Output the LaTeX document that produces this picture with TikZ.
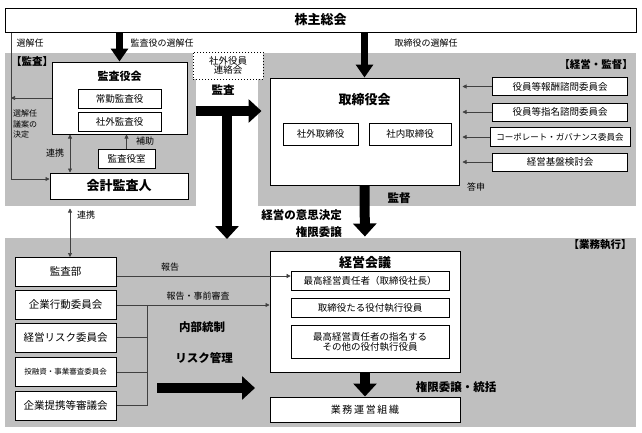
\documentclass[tikz,border=0pt]{standalone}
\usepackage{fontspec}
\setmainfont{Noto Sans CJK JP}
\usetikzlibrary{arrows.meta}

\begin{document}
\begin{tikzpicture}[x=1pt,y=-1pt,
    box/.style={draw,fill=white,line width=1pt,inner sep=0pt,align=center},
    sub/.style={draw,fill=white,line width=0.7pt,inner sep=0pt,align=center,font=\fontsize{9.5}{10}\selectfont},
    leftbox/.style={box,minimum width=101pt,minimum height=29pt,font=\fontsize{10.5}{11}\selectfont},
    area/.style={fill=black!25},
    ttl/.style={font=\bfseries\fontsize{13}{14}\selectfont},
    lbl/.style={inner sep=0pt,font=\fontsize{9}{10}\selectfont},
    blbl/.style={inner sep=0pt,font=\bfseries\fontsize{11.5}{12}\selectfont},
    tag/.style={inner sep=0pt,font=\bfseries\fontsize{10.5}{11}\selectfont},
    link/.style={draw=black!75,line width=0.6pt},
    >={Triangle[length=4pt,width=4pt]},
    bigarrow/.style={line width=10pt,-{Triangle[length=13pt,width=23pt]}},
    midarrow/.style={line width=7pt,-{Triangle[length=13pt,width=17pt]}}]
  \useasboundingbox (0,0) rectangle (642,432);

  % grey areas
  \fill[area] (5,53) rectangle (196,206);
  \fill[area] (258,53) rectangle (636,206);
  \fill[area] (5,238) rectangle (636,427);

  \node[box,minimum width=631pt,minimum height=24pt,ttl] (soukai) at (320.5,20) {株主総会};

  % audit
  \node[box,minimum width=135pt,minimum height=72pt] (kansayakukai) at (119.5,98) {};
  \node[inner sep=0pt,font=\bfseries\fontsize{11}{12}\selectfont] (kansayakukaiT) at (119.5,76) {監査役会};
  \node[sub,minimum width=83pt,minimum height=19pt] (joukin) at (119.5,98.5) {常勤監査役};
  \node[sub,minimum width=83pt,minimum height=19pt] (shagaikansa) at (119.5,121.5) {社外監査役};
  \node[sub,minimum width=57pt,minimum height=19pt] (shitsu) at (126.5,158.5) {監査役室};
  \node[box,minimum width=138pt,minimum height=26pt,ttl] (kaikei) at (119,186) {会計監査人};
  \node[draw,dotted,line width=1pt,fill=white,minimum width=70pt,minimum height=27pt,
    inner sep=0pt,align=center,font=\fontsize{9.5}{9.5}\selectfont] (renraku) at (228,65.5) {社外役員\\連絡会};

  % board
  \node[box,minimum width=189pt,minimum height=107pt] (tori) at (364.5,131.5) {};
  \node[inner sep=0pt,ttl] (toriT) at (364.5,100) {取締役会};
  \node[sub,minimum width=75pt,minimum height=22pt] (shagaitori) at (320.5,134) {社外取締役};
  \node[sub,minimum width=82pt,minimum height=22pt] (shanaitori) at (410,134) {社内取締役};
  \node[sub,line width=1pt,minimum width=135pt,minimum height=18pt] (houshu) at (560,86.5) {役員等報酬諮問委員会};
  \node[sub,line width=1pt,minimum width=135pt,minimum height=18pt] (shimeiC) at (560,112) {役員等指名諮問委員会};
  \node[sub,line width=1pt,minimum width=140pt,minimum height=19pt,font=\fontsize{8.5}{9}\selectfont] (cg) at (560,137) {コーポレート・ガバナンス委員会};
  \node[sub,line width=1pt,minimum width=135pt,minimum height=18pt] (kiban) at (560,162) {経営基盤検討会};

  % execution
  \node[box,minimum width=190pt,minimum height=121pt] (keieikaigi) at (365,311.5) {};
  \node[inner sep=0pt,ttl] (keieikaigiT) at (365,263) {経営会議};
  \node[sub,minimum width=158pt,minimum height=19pt] (ceo) at (370,280.5) {最高経営責任者（取締役社長）};
  \node[sub,minimum width=158pt,minimum height=19pt] (yakutsuki) at (370,307.5) {取締役たる役付執行役員};
  \node[sub,minimum width=158pt,minimum height=33pt] (shimei) at (370,341.5) {最高経営責任者の指名する\\その他の役付執行役員};
  \node[box,minimum width=190pt,minimum height=25pt,font=\fontsize{10}{11}\selectfont] (gyomusoshiki) at (365,409.5) {業\,務\,運\,営\,組\,織};

  \node[leftbox] (kansabu) at (65.5,272) {監査部};
  \node[leftbox] (koudou) at (65.5,305) {企業行動委員会};
  \node[leftbox] (risk) at (65.5,337.5) {経営リスク委員会};
  \node[leftbox,font=\fontsize{7.5}{8}\selectfont] (toyushi) at (65.5,372) {投融資・事業審査委員会};
  \node[leftbox] (teikei) at (65.5,405.5) {企業提携等審議会};

  % labels
  \node[lbl] (l1) at (30,43) {選解任};
  \node[lbl] (l2) at (162,43) {監査役の選解任};
  \node[lbl] (l3) at (426,43) {取締役の選解任};
  \node[tag] (t1) at (32,62) {【監査】};
  \node[tag] (t2) at (596,64) {【経営・監督】};
  \node[tag] (t3) at (600,245) {【業務執行】};
  \node[blbl] (b1) at (223,90) {監査};
  \node[lbl,align=left,anchor=west,font=\fontsize{8}{10.5}\selectfont] (l4) at (13,124) {選解任\\議案の\\決定};
  \node[lbl] (l5) at (55,153) {連携};
  \node[lbl] (l6) at (145,141) {補助};
  \node[lbl] (l7) at (476,187) {答申};
  \node[blbl] (b2) at (399,198) {監督};
  \node[blbl,anchor=east] (b3) at (342,215) {経営の意思決定};
  \node[blbl,anchor=east] (b4) at (342,232) {権限委譲};
  \node[lbl] (l8) at (86,215) {連携};
  \node[lbl] (l9) at (170,267) {報告};
  \node[lbl] (l10) at (198,296) {報告・事前審査};
  \node[blbl] (b5) at (202,327) {内部統制};
  \node[blbl] (b6) at (204,358) {リスク管理};
  \node[blbl] (b7) at (456,387) {権限委譲・統括};

  % connectors
  \coordinate (lx) at (11,0);
  \coordinate (kx) at (70,0);
  \coordinate (jx) at (147,0);
  \coordinate (tj) at (227,111);
  \coordinate (gtop) at (0,239);
  \coordinate (kw) at ([yshift=7pt]kaikei.west);
  \coordinate (kb) at ([yshift=-4pt]kansabu.east);
  \coordinate (ra) at (157,388);
  \coordinate (rb) at (255,388);

  \draw[midarrow] (kansayakukai.north |- soukai.south) -- (kansayakukai.north);
  \draw[midarrow] (tori.north |- soukai.south) -- (tori.north);

  \draw[link,->] (soukai.south -| lx) -- (kw -| lx) -- (kw);
  \draw[link,->] (kansayakukai.west) -- (kansayakukai.west -| lx);
  \draw[link,<->] (kansayakukai.south -| kx) -- (kaikei.north -| kx);
  \draw[link,->] (shitsu.north) -- (shitsu.north |- kansayakukai.south);
  \draw[link,<->,shorten <=9pt] (kaikei.south -| kx) -- (kansabu.north -| kx);

  \draw[bigarrow,shorten <=8pt,shorten >=8pt] (kansayakukai.east |- tj) -- (tori.west |- tj);
  \draw[bigarrow] (tj) -- (tj |- gtop);
  \draw[bigarrow,shorten >=14pt] (tori.south) -- (keieikaigi.north);
  \draw[bigarrow] (keieikaigi.south) -- (gyomusoshiki.north);
  \draw[bigarrow] (ra) -- (rb);

  \foreach \c in {houshu,shimeiC,cg,kiban}
    \draw[link,->,shorten >=3pt] (\c.west) -- (\c.west -| tori.east);

  \draw[link,->] (kb) -- (kb -| ceo.west);
  \draw[link,->] (koudou.east) -- (koudou.east -| keieikaigi.west);
  \foreach \b in {risk,toyushi,teikei}
    \draw[link] (\b.east) -- (\b.east -| jx);
  \draw[link] (koudou.east -| jx) -- (teikei.east -| jx);
\end{tikzpicture}
\end{document}
